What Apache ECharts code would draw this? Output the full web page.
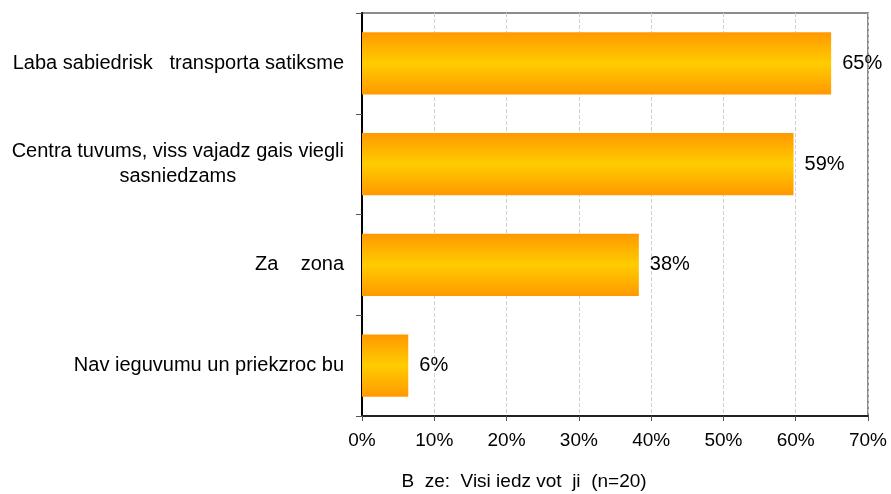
<!DOCTYPE html>
<html>
<head>
<meta charset="utf-8">
<script src="https://cdn.jsdelivr.net/npm/echarts@6/dist/echarts.min.js"></script>
<style>
  html, body { margin: 0; padding: 0; background: #fff; }
  #chart { width: 891px; height: 494px; }
</style>
</head>
<body>
<div id="chart"></div>
<script>
// categories top to bottom
const categories = [
  "Laba sabiedrisk   transporta satiksme",
  "Centra tuvums, viss vajadz gais viegli\nsasniedzams",
  "Za    zona",
  "Nav ieguvumu un priekzroc bu"
];
// bar lengths (%)
const values = [64.9, 59.7, 38.3, 6.4];
// printed labels
const valueLabels = ["65%", "59%", "38%", "6%"];
const xTicks = [0, 10, 20, 30, 40, 50, 60, 70];
const baseNote = "B  ze:  Visi iedz vot  ji  (n=20)";

const font = "Liberation Sans, Arial, sans-serif";

const barFill = new echarts.graphic.LinearGradient(0, 0, 0, 1, [
  { offset: 0, color: "#ff9900" },
  { offset: 0.5, color: "#ffcc00" },
  { offset: 1, color: "#ff9900" }
]);

const chart = echarts.init(document.getElementById("chart"), null, { renderer: "canvas" });
chart.setOption({
  animation: false,
  backgroundColor: "#fff",
  title: {
    text: baseNote,
    left: 519,
    top: 467,
    textAlign: "center",
    textStyle: { fontFamily: font, fontSize: 19, fontWeight: "normal", color: "#000" }
  },
  grid: { left: 362, right: 23, top: 13, bottom: 78, containLabel: false },
  xAxis: {
    type: "value",
    min: 0,
    max: 70,
    interval: 10,
    axisLine: { show: true, lineStyle: { color: "#222", width: 2 } },
    axisTick: { show: true, length: 5, lineStyle: { color: "#555" } },
    axisLabel: {
      margin: 15,
      fontFamily: font,
      fontSize: 19,
      color: "#000",
      formatter: v => xTicks.indexOf(v) >= 0 ? v + "%" : ""
    },
    splitLine: { show: true, lineStyle: { color: "#d0d0d0", type: "dashed" } }
  },
  yAxis: {
    type: "category",
    inverse: true,
    data: categories,
    axisLine: { show: true, lineStyle: { color: "#000", width: 2 } },
    axisTick: { show: true, length: 6, lineStyle: { color: "#555" } },
    axisLabel: {
      margin: 18,
      fontFamily: font,
      fontSize: 20,
      color: "#000",
      formatter: s => s.split("\n").map(l => "{c|" + l + "}").join("\n"),
      rich: { c: { align: "center", fontFamily: font, fontSize: 20, color: "#000", lineHeight: 25 } }
    }
  },
  graphic: [
    // top and right border of plot
    { type: "polyline", shape: { points: [[361, 13], [868, 13], [868, 416]] },
      style: { stroke: "#8c8c8c", lineWidth: 2, fill: null }, silent: true }
  ],
  series: [{
    type: "bar",
    data: values,
    barCategoryGap: "38%",
    itemStyle: { color: barFill },
    label: {
      show: true,
      position: "right",
      distance: 11,
      fontFamily: font,
      fontSize: 20,
      color: "#000",
      formatter: p => valueLabels[p.dataIndex]
    }
  }]
});
</script>
</body>
</html>
